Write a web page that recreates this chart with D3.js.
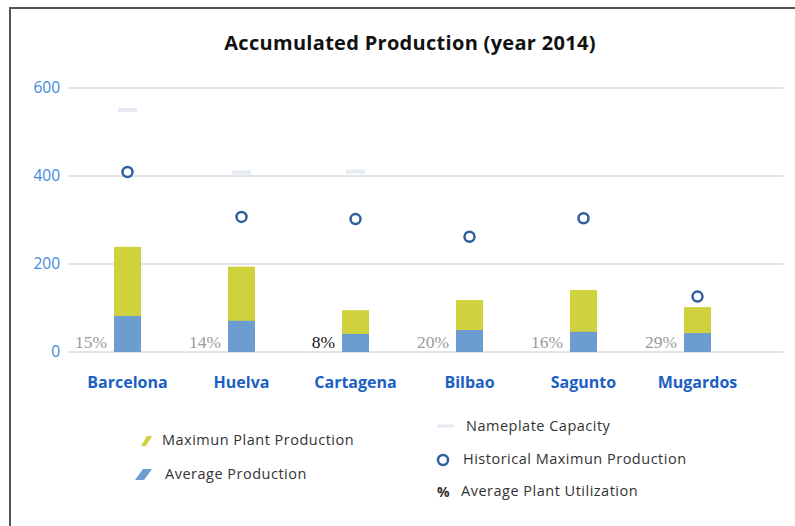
<!DOCTYPE html>
<html>
<head>
<meta charset="utf-8">
<script src="https://cdn.jsdelivr.net/npm/d3@7"></script>
<style>
  html, body { margin: 0; padding: 0; background: #fff; }
  svg { display: block; }
</style>
</head>
<body>
<figure id="chart" style="margin:0"></figure>
<script>
// chart values
const categories = ["Barcelona", "Huelva", "Cartagena", "Bilbao", "Sagunto", "Mugardos"];
const maxPlantProduction = [239, 194, 95, 118, 141, 102];
const averageProduction = [82, 71, 41, 50, 46, 43];
const historicalMax = [409, 307, 302, 262, 304, 126];
const nameplateCapacity = [550, 408, 410, null, null, null];
const utilization = [15, 14, 8, 20, 16, 29];
const yTicks = [0, 200, 400, 600];

const width = 795, height = 526;
const yellow = "#cfd23d", blue = "#6d9dd0", ringColor = "#2f5f9c";

const svg = d3.select("#chart").append("svg")
  .attr("width", width)
  .attr("height", height);

// frame
svg.append("path")
  .attr("d", "M10,526 L10,8 L795,8")
  .attr("fill", "none")
  .attr("stroke", "#555")
  .attr("stroke-width", 2);

// title
svg.append("text")
  .attr("x", 410)
  .attr("y", 50)
  .attr("text-anchor", "middle")
  .style("font-family", "'Open Sans', sans-serif")
  .style("font-weight", "bold")
  .style("font-size", "20px")
  .style("letter-spacing", "0.3px")
  .attr("fill", "#111")
  .text("Accumulated Production (year 2014)");

// scales
const x = d3.scaleBand()
  .domain(categories)
  .range([70, 755])
  .paddingInner(0.763)
  .paddingOuter(0.386);

const y = d3.scaleLinear()
  .domain([0, 600])
  .range([352, 88]);

// gridlines
svg.append("g")
  .selectAll("line")
  .data(yTicks)
  .enter()
  .append("line")
  .attr("x1", 68)
  .attr("x2", 783)
  .attr("y1", d => y(d))
  .attr("y2", d => y(d))
  .attr("stroke", "#e4e4e4")
  .attr("stroke-width", 2);

// y axis labels
const yAxis = svg.append("g")
  .attr("transform", "translate(62,0)")
  .call(d3.axisLeft(y).tickValues(yTicks).tickSize(0).tickPadding(2));
yAxis.select(".domain").remove();
yAxis.selectAll("text")
  .attr("fill", "#3f88dc")
  .style("font-family", "'Open Sans', sans-serif")
  .style("font-size", "15.5px");

// x axis labels
const xAxis = svg.append("g")
  .attr("transform", "translate(0,371)")
  .call(d3.axisBottom(x).tickSize(0).tickPadding(6));
xAxis.select(".domain").remove();
xAxis.selectAll("text")
  .attr("fill", "#1c5fc4")
  .style("font-family", "'Open Sans', sans-serif")
  .style("font-weight", "bold")
  .style("font-size", "16px");

// nameplate capacity dashes
svg.selectAll(".nameplate")
  .data(categories.filter((c, i) => nameplateCapacity[i] != null))
  .enter()
  .append("rect")
  .attr("class", "nameplate")
  .attr("x", d => x(d) + 4)
  .attr("y", d => y(nameplateCapacity[categories.indexOf(d)]) - 2)
  .attr("width", x.bandwidth() - 8)
  .attr("height", 4)
  .attr("fill", "#e4ebf3");

// max plant production bars
svg.selectAll(".maxbar")
  .data(categories)
  .enter()
  .append("rect")
  .attr("class", "maxbar")
  .attr("x", d => x(d))
  .attr("y", (d, i) => y(maxPlantProduction[i]))
  .attr("width", x.bandwidth())
  .attr("height", (d, i) => y(0) - y(maxPlantProduction[i]))
  .attr("fill", yellow);

// average production bars
svg.selectAll(".avgbar")
  .data(categories)
  .enter()
  .append("rect")
  .attr("class", "avgbar")
  .attr("x", d => x(d))
  .attr("y", (d, i) => y(averageProduction[i]))
  .attr("width", x.bandwidth())
  .attr("height", (d, i) => y(0) - y(averageProduction[i]))
  .attr("fill", blue);

// historical maximum rings
svg.selectAll(".ring")
  .data(categories)
  .enter()
  .append("circle")
  .attr("class", "ring")
  .attr("cx", d => x(d) + x.bandwidth() / 2)
  .attr("cy", (d, i) => y(historicalMax[i]))
  .attr("r", 5)
  .attr("fill", "#fff")
  .attr("stroke", ringColor)
  .attr("stroke-width", 2.5);

// utilization labels
svg.selectAll(".util")
  .data(categories)
  .enter()
  .append("text")
  .attr("class", "util")
  .attr("x", d => x(d) - 7)
  .attr("y", 348)
  .attr("text-anchor", "end")
  .style("font-family", "'Liberation Serif', serif")
  .style("font-size", "17.5px")
  .attr("fill", (d, i) => utilization[i] === 8 ? "#111" : "#9a9a9a")
  .text((d, i) => utilization[i] + "%");

// legend
const legendFont = "'Open Sans', sans-serif";
const legendText = (lx, ly, t) => svg.append("text")
  .attr("x", lx).attr("y", ly).attr("dy", "0.35em")
  .style("font-family", legendFont)
  .style("font-size", "14.5px")
  .style("letter-spacing", "0.5px")
  .attr("fill", "#333")
  .text(t);

svg.append("path")
  .attr("d", "M141,446 L147,436 L152,436 L146,446 Z")
  .attr("fill", yellow);
legendText(162, 440, "Maximun Plant Production");

svg.append("path")
  .attr("d", "M135,480 L143,469 L152,469 L144,480 Z")
  .attr("fill", blue);
legendText(165, 474, "Average Production");

svg.append("rect")
  .attr("x", 437).attr("y", 424.5).attr("width", 17).attr("height", 3)
  .attr("fill", "#e4ebf3");
legendText(466, 426, "Nameplate Capacity");

svg.append("circle")
  .attr("cx", 443).attr("cy", 460).attr("r", 5)
  .attr("fill", "#fff").attr("stroke", ringColor).attr("stroke-width", 2.5);
legendText(463, 459, "Historical Maximun Production");

svg.append("text")
  .attr("x", 437).attr("y", 492).attr("dy", "0.35em")
  .style("font-family", legendFont)
  .style("font-size", "14px")
  .style("font-weight", "bold")
  .attr("fill", "#333")
  .text("%");
legendText(461, 491, "Average Plant Utilization");
</script>
</body>
</html>
